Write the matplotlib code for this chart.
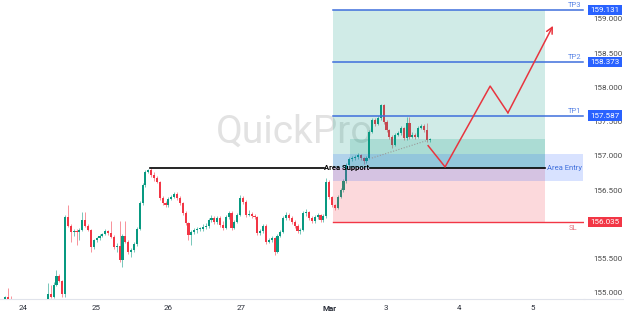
import numpy as np
import matplotlib
matplotlib.use("Agg")
import matplotlib.pyplot as plt
from matplotlib.lines import Line2D

plt.rcParams['font.family'] = ['Roboto', 'DejaVu Sans']

# ---- data: hourly candles (open of each bar = previous close) ----
first_open = 154.91
closes = [154.94, 154.91, 154.90,
          154.84, 154.80, 154.77, 154.72, 154.69, 154.73, 154.78, 154.75, 154.80, 154.83, 154.86, 154.88,
          154.98, 154.94, 155.12, 155.25, 155.18, 154.98, 156.11, 155.98, 155.89, 155.90,
          155.89, 155.92, 156.07, 155.98, 155.92, 155.67, 155.77, 155.80, 155.83, 155.86,
          155.90, 155.87, 155.82, 155.67, 155.69, 155.48, 155.83, 155.75, 155.60, 155.63,
          155.71, 155.94, 156.31, 156.58, 156.77, 156.80, 156.72, 156.68, 156.62, 156.39,
          156.31, 156.28, 156.37, 156.40, 156.44, 156.39, 156.31, 156.17, 156.02, 155.85,
          155.89, 155.92, 155.93, 155.94, 155.96, 155.98, 156.07, 156.10, 156.04, 156.10,
          155.99, 155.95, 156.11, 156.17, 155.95, 156.04, 156.14, 156.39, 156.33, 156.14,
          156.15, 156.13, 156.11, 155.87, 155.90, 155.98, 155.75, 155.77, 155.80, 155.60,
          155.83, 155.89, 156.10, 156.14, 156.10, 156.04, 155.98, 155.90, 155.92, 156.17,
          156.18, 156.10, 156.05, 156.11, 156.14, 156.07, 156.12, 156.62, 156.40, 156.28,
          156.24, 156.40, 156.50, 156.63, 156.87, 156.95, 156.97, 156.98, 157.01, 156.97,
          156.92, 156.97, 157.35, 157.53, 157.47, 157.55, 157.74, 157.50, 157.38, 157.28,
          157.16, 157.31, 157.34, 157.41, 157.26, 157.48, 157.28, 157.31, 157.28, 157.41,
          157.44, 157.38, 157.23, 157.23]
highs = [154.95, 155.07, 154.95,
         154.89, 154.85, 154.82, 154.78, 154.74, 154.76, 154.80, 154.80, 154.83, 154.86, 154.88, 154.89,
         155.15, 155.12, 155.16, 155.34, 155.28, 155.19, 156.14, 156.28, 156.00, 155.93,
         155.93, 155.95, 156.18, 156.18, 156.00, 155.93, 155.79, 155.82, 155.86, 155.88,
         155.93, 155.92, 156.05, 155.84, 155.73, 156.05, 155.86, 156.05, 155.77, 155.66,
         155.74, 155.97, 156.34, 156.61, 156.79, 156.81, 156.82, 156.76, 156.71, 156.64,
         156.41, 156.34, 156.40, 156.43, 156.48, 156.47, 156.42, 156.33, 156.20, 156.04,
         155.92, 155.95, 155.96, 155.97, 156.00, 156.02, 156.10, 156.14, 156.12, 156.13,
         156.12, 156.05, 156.14, 156.20, 156.19, 156.07, 156.17, 156.43, 156.42, 156.35,
         156.21, 156.18, 156.16, 156.13, 155.93, 156.01, 156.00, 155.80, 155.83, 155.82,
         155.86, 155.92, 156.13, 156.18, 156.17, 156.12, 156.06, 156.00, 155.95, 156.20,
         156.22, 156.20, 156.12, 156.14, 156.17, 156.16, 156.15, 156.68, 156.65, 156.42,
         156.30, 156.43, 156.53, 156.66, 156.90, 156.99, 157.00, 157.01, 157.04, 157.03,
         156.99, 157.00, 157.38, 157.56, 157.56, 157.58, 157.76, 157.76, 157.52, 157.40,
         157.30, 157.34, 157.37, 157.44, 157.43, 157.57, 157.57, 157.35, 157.33, 157.44,
         157.47, 157.46, 157.48, 157.26]
lows = [154.90, 154.90, 154.88,
        154.80, 154.76, 154.72, 154.68, 154.65, 154.67, 154.71, 154.72, 154.73, 154.78, 154.81, 154.84,
        154.86, 154.92, 154.92, 155.10, 155.16, 154.94, 154.94, 155.96, 155.74, 155.83,
        155.70, 155.77, 155.90, 155.96, 155.90, 155.60, 155.64, 155.75, 155.78, 155.81,
        155.84, 155.85, 155.80, 155.64, 155.60, 155.45, 155.38, 155.73, 155.57, 155.52,
        155.60, 155.69, 155.92, 156.29, 156.55, 156.75, 156.70, 156.64, 156.60, 156.36,
        156.28, 156.25, 156.26, 156.35, 156.38, 156.36, 156.29, 156.14, 155.99, 155.77,
        155.70, 155.86, 155.88, 155.90, 155.91, 155.93, 155.95, 156.04, 156.01, 156.00,
        155.96, 155.92, 155.93, 156.08, 155.92, 155.93, 156.02, 156.12, 156.30, 156.11,
        156.12, 156.10, 156.08, 155.84, 155.85, 155.88, 155.72, 155.73, 155.75, 155.56,
        155.58, 155.81, 155.87, 156.07, 156.07, 156.01, 155.95, 155.87, 155.86, 155.90,
        156.12, 156.07, 156.02, 156.02, 156.08, 156.03, 156.04, 156.10, 156.37, 156.25,
        156.21, 156.22, 156.38, 156.48, 156.61, 156.85, 156.92, 156.94, 156.96, 156.94,
        156.89, 156.90, 156.95, 157.33, 157.44, 157.45, 157.53, 157.47, 157.35, 157.25,
        157.12, 157.14, 157.29, 157.31, 157.23, 157.24, 157.25, 157.26, 157.25, 157.26,
        157.39, 157.35, 157.20, 157.21]
opens = [first_open] + closes[:-1]

day_labels = ['24', '25', '26', '27', 'Mar', '3', '4', '5']
day_pos = [6.3, 31.8, 56.9, 82.3, 113.3, 132.8, 158.3, 184.0]

price_ticks = [155.0, 155.5, 156.0, 156.5, 157.0, 157.5, 158.0, 158.5, 159.0]

# trade setup
entry = 156.83
stop_loss = 156.035
take_profits = [157.587, 158.373, 159.131]
tp_names = ['TP1', 'TP2', 'TP3']
entry_zone = (156.64, 157.03)
support_level = 156.83
# projected path (bar index, price)
path_x = [147.5, 153.4, 169.1, 175.3, 191.0]
path_y = [157.15, 156.84, 158.02, 157.63, 158.90]
trend_x = [127.9, 147.4]
trend_y = [156.97, 157.23]

GREEN = '#089981'
RED = '#f23645'
BLUE = '#2962ff'

fig = plt.figure(figsize=(6.24, 3.16), dpi=100)
ax = fig.add_axes([0, 17 / 316, 584 / 624, 299 / 316])
ax.set_xlim(-1.67, 201.8)
ax.set_ylim(154.912, 159.277)

# watermark
ax.text(101, 157.19, 'QuickPro', fontsize=28, color='#e2e2e2', ha='center',
        va='baseline', zorder=0)

# candles
x = np.arange(len(closes))
o = np.array(opens)
c = np.array(closes)
up = c >= o
cols = np.where(up, GREEN, RED)
ax.vlines(x, lows, highs, colors=cols, linewidth=0.7, alpha=0.55, zorder=2)
body = np.maximum(np.abs(c - o), 0.012)
ax.bar(x, body, bottom=np.minimum(o, c), width=0.74, color=cols, linewidth=0, zorder=3)

# position zones
zx0, zx1, right = 114.3, 188.2, 201.5
ax.fill_between([zx0, zx1], entry, take_profits[2], color=GREEN, alpha=0.19, lw=0, zorder=4)
ax.fill_between([zx0, zx1], stop_loss, entry, color=RED, alpha=0.19, lw=0, zorder=4)
ax.fill_between([120.3, zx1], entry, 157.25, color=GREEN, alpha=0.18, lw=0, zorder=4)
ax.fill_between([zx0, right], entry_zone[0], entry_zone[1], color=BLUE, alpha=0.18, lw=0, zorder=4)

for tp, name in zip(take_profits, tp_names):
    ax.plot([zx0, right], [tp, tp], color='#3f6fdc', lw=1.1, zorder=5)
    ax.text(right - 0.5, tp + 0.03, name, color='#5b86e6', fontsize=5.5,
            ha='right', va='bottom', zorder=6)
ax.plot([zx0, right], [stop_loss, stop_loss], color=RED, lw=1.0, zorder=5)
ax.text(right - 2, stop_loss - 0.04, 'SL', color='#e6707c', fontsize=5.5,
        ha='right', va='top', zorder=6)
ax.text(right - 0.5, 156.82, 'Area Entry', color='#3f6fdc', fontsize=5.5,
        ha='right', va='center', zorder=6)

# area support
ax.plot([50.6, 111.2], [support_level, support_level], color='black', lw=1.2, zorder=5)
ax.plot([127.3, zx1], [support_level, support_level], color='black', lw=1.2, zorder=5)
ax.text(119.2, support_level, 'Area Support', fontsize=5.5, fontweight='bold',
        ha='center', va='center', zorder=6)

# dotted trend and projected path
ax.plot(trend_x, trend_y, color='#9a9a9a', lw=0.8, ls=(0, (1, 1.5)), zorder=5)
ax.plot(path_x[:-1], path_y[:-1], color='#e8353f', lw=1.1, zorder=6)
ax.annotate('', xy=(path_x[-1], path_y[-1]), xytext=(path_x[-2], path_y[-2]),
            arrowprops=dict(arrowstyle='->', color='#e8353f', lw=1.1,
                            mutation_scale=11, shrinkA=0, shrinkB=0), zorder=6)

# axes styling
for s in ['top', 'right', 'left']:
    ax.spines[s].set_visible(False)
ax.spines['bottom'].set_color('#e0e3eb')
ax.set_xticks(day_pos)
ax.set_xticklabels(day_labels)
ax.tick_params(axis='x', length=0, pad=4, labelsize=5.8, colors='#2a2e39')
ax.get_xticklabels()[4].set_fontweight('bold')
ax.yaxis.tick_right()
ax.set_yticks(price_ticks)
# 156.000 sits under the SL price box, so its label is left blank
ax.set_yticklabels(['' if p == 156.0 else '%.3f' % p for p in price_ticks])
ax.tick_params(axis='y', length=0, pad=6.5, labelsize=5.8, colors='#4a4a4a')
fig.add_artist(Line2D([584 / 624, 1], [17 / 316, 17 / 316], color='#e0e3eb', lw=0.8))

# price labels on the scale
tr = ax.get_yaxis_transform()
for tp in take_profits:
    ax.text(1.011, tp, '%.3f' % tp, transform=tr, color='white', fontsize=5.8,
            ha='left', va='center', clip_on=False, zorder=10,
            bbox=dict(boxstyle='square,pad=0.3', fc=BLUE, ec='none'))
ax.text(1.011, stop_loss, '%.3f' % stop_loss, transform=tr, color='white', fontsize=5.8,
        ha='left', va='center', clip_on=False, zorder=10,
        bbox=dict(boxstyle='square,pad=0.3', fc=RED, ec='none'))

fig.savefig('out.png', dpi=100)
